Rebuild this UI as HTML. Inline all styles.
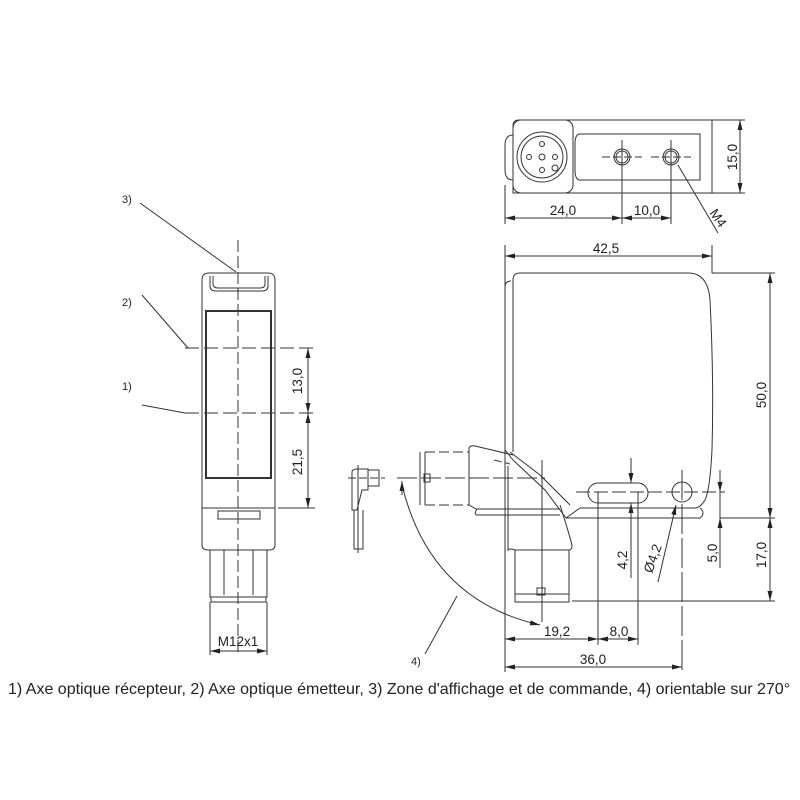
<!DOCTYPE html>
<html><head><meta charset="utf-8"><style>
html,body{margin:0;padding:0;background:#fff;width:800px;height:800px;overflow:hidden}
svg{display:block}
text{font-family:"Liberation Sans",sans-serif;fill:#222}
</style></head><body>
<svg width="800" height="800" viewBox="0 0 800 800" xmlns="http://www.w3.org/2000/svg">
<defs>
<marker id="a" markerWidth="10" markerHeight="6" refX="10" refY="3" orient="auto-start-reverse" markerUnits="userSpaceOnUse"><path d="M0,0.5 L10,3 L0,5.5z" fill="#222"/></marker>
</defs>
<g stroke="#333" fill="none" stroke-width="1">
<!-- LEFT VIEW -->
<path d="M202,508 V280 Q202,273 209,273 H268 Q275,273 275,280 V508 Z"/>
<path d="M210,276 V286 Q210,291 216,291 H262 Q268,291 268,286 V276"/>
<path d="M213,276 V284 Q213,288 218,288 H260 Q265,288 265,284 V276"/>
<rect x="206" y="311" width="65" height="167" stroke-width="2"/>
<line x1="202" y1="508" x2="275" y2="508"/>
<path d="M218,511 h42 v8 h-42 z"/>
<path d="M202,508 V545 Q202,550 208,550 H269 Q275,550 275,545 V508"/>
<path d="M210,550 V597 H267 V550"/>
<line x1="224" y1="550" x2="224" y2="595"/><line x1="253" y1="550" x2="253" y2="595"/>
<path d="M211,597 H266 V602 H211 Z"/>
<line x1="238" y1="240" x2="238" y2="652" stroke-dasharray="12,4"/>
<line x1="185" y1="348" x2="315" y2="348" stroke-dasharray="14,5"/>
<line x1="185" y1="413" x2="315" y2="413" stroke-dasharray="14,5"/>
<line x1="278" y1="508" x2="315" y2="508"/>
<line x1="308" y1="348" x2="308" y2="413" marker-start="url(#a)" marker-end="url(#a)"/>
<line x1="308" y1="413" x2="308" y2="508" marker-start="url(#a)" marker-end="url(#a)"/>
<line x1="210" y1="602" x2="210" y2="655"/><line x1="267" y1="602" x2="267" y2="655"/>
<line x1="210" y1="651" x2="267" y2="651" marker-start="url(#a)" marker-end="url(#a)"/>
<line x1="140" y1="203" x2="236" y2="272"/>
<line x1="142" y1="295" x2="188" y2="348"/>
<line x1="142" y1="405" x2="185" y2="413"/>

<!-- TOP VIEW -->
<path d="M513,193 V126 Q513,120 519,120 H712 V193 Z"/>
<path d="M513,135 Q505,135 505,145 V170 Q505,180 513,180"/>
<rect x="513" y="120" width="60" height="73" rx="8"/>
<circle cx="542" cy="157" r="25"/><circle cx="542" cy="157" r="21"/>
<circle cx="542" cy="157" r="3"/><circle cx="542" cy="144" r="2.5"/><circle cx="542" cy="170" r="2.5"/><circle cx="529" cy="157" r="2.5"/><circle cx="555" cy="157" r="2.5"/>
<circle cx="555" cy="168" r="3"/>
<path d="M580,134 H700 V180 H580 Q575,180 575,170 V144 Q575,134 580,134 Z"/>
<circle cx="622" cy="157" r="8"/><circle cx="622" cy="157" r="6"/>
<circle cx="671" cy="157" r="8"/><circle cx="671" cy="157" r="6"/>
<line x1="602" y1="157" x2="642" y2="157" stroke-dasharray="8,3"/>
<line x1="651" y1="157" x2="691" y2="157" stroke-dasharray="8,3"/>
<line x1="712" y1="120" x2="745" y2="120"/><line x1="712" y1="193" x2="745" y2="193"/>
<line x1="740" y1="120" x2="740" y2="193" marker-start="url(#a)" marker-end="url(#a)"/>
<line x1="505" y1="185" x2="505" y2="224"/>
<line x1="622" y1="140" x2="622" y2="224"/><line x1="671" y1="140" x2="671" y2="224"/>
<line x1="505" y1="218" x2="622" y2="218" marker-start="url(#a)" marker-end="url(#a)"/>
<line x1="622" y1="218" x2="671" y2="218" marker-start="url(#a)" marker-end="url(#a)"/>
<line x1="678" y1="165" x2="718" y2="233"/>

<!-- SIDE VIEW -->
<path d="M513,452 V280 Q513,273 520,273 H688 Q708,273 710,300 Q714,380 712,450 Q710,490 705,500 Q700,508 695,508 H580"/>
<path d="M505,450 V287 Q505,281 511,281"/>
<line x1="505" y1="450" x2="513" y2="460"/>
<path d="M566,518 L580,508 M566,518 H700 Q706,513 700,508"/>
<path d="M510,452 L540,475 L570,505"/>
<path d="M513,460 L545,490 L566,518"/>
<line x1="505" y1="245" x2="505" y2="672"/>
<line x1="712" y1="245" x2="712" y2="273"/>
<line x1="505" y1="256" x2="712" y2="256" marker-start="url(#a)" marker-end="url(#a)"/>
<line x1="712" y1="273" x2="775" y2="273"/>
<line x1="720" y1="518" x2="775" y2="518"/>
<line x1="572" y1="601" x2="775" y2="601"/>
<line x1="770" y1="273" x2="770" y2="518" marker-start="url(#a)" marker-end="url(#a)"/>
<line x1="770" y1="518" x2="770" y2="601" marker-start="url(#a)" marker-end="url(#a)"/>
<rect x="588" y="483" width="60" height="20" rx="10"/>
<circle cx="682" cy="492" r="10"/>
<line x1="576" y1="492" x2="725" y2="492" stroke-dasharray="14,4"/>
<line x1="720" y1="470" x2="720" y2="568"/>
<line x1="720" y1="470" x2="720" y2="492" marker-end="url(#a)"/>
<line x1="720" y1="540" x2="720" y2="518" marker-end="url(#a)"/>
<line x1="598" y1="492" x2="598" y2="645"/>
<line x1="638" y1="492" x2="638" y2="645"/>
<line x1="682" y1="470" x2="682" y2="672" stroke-dasharray="30,4"/>
<line x1="631" y1="458" x2="631" y2="483" marker-end="url(#a)"/>
<line x1="631" y1="530" x2="631" y2="503" marker-end="url(#a)"/>
<line x1="631" y1="503" x2="631" y2="578"/>
<line x1="658" y1="582" x2="676" y2="505" marker-end="url(#a)"/>
<line x1="505" y1="639" x2="598" y2="639" marker-start="url(#a)" marker-end="url(#a)"/>
<line x1="598" y1="639" x2="638" y2="639" marker-start="url(#a)" marker-end="url(#a)"/>
<line x1="505" y1="667" x2="682" y2="667" marker-start="url(#a)" marker-end="url(#a)"/>
<!-- connector -->
<path d="M508,466 V550 Q510,548 515,550"/>
<path d="M469,448 Q470,445 475,446 L513,455"/>
<path d="M469,448 V505 L476,509 H560"/>
<path d="M477,509 Q473,515 478,515 H560"/>
<path d="M560,505 Q568,530 572,545 Q572,550 569,550"/>
<path d="M515,550 V602 H569 V550 Z"/>
<line x1="515" y1="594" x2="569" y2="594"/>
<rect x="537" y="588" width="8" height="7"/>
<line x1="542" y1="460" x2="542" y2="622"/>
<path d="M420,452 V505 M425,452 V505" />
<path d="M425,452 H469 M425,505 H469" stroke-dasharray="10,4"/>
<rect x="424" y="474" width="6" height="8"/>
<path d="M494,460 L510,464" stroke-dasharray="8,3"/>
<line x1="397" y1="478" x2="545" y2="478" stroke-dasharray="20,4"/>
<!-- small cable -->
<path d="M352,472 Q352,469 357,469 H368 V490 H362 L357,510 H352 Z"/>
<rect x="368" y="470" width="11" height="16"/>
<path d="M354,510 V549 H363 V510"/>
<line x1="358" y1="465" x2="358" y2="553"/>
<line x1="348" y1="478" x2="385" y2="478" stroke-dasharray="8,3"/>
<path d="M402,485 Q430,600 540,625" marker-end="url(#a)"/>
<line x1="402" y1="495" x2="402" y2="481" marker-end="url(#a)"/>
<line x1="425" y1="654" x2="457" y2="596"/>
</g>
<g font-size="13.5">
<text x="122" y="203" font-size="11">3)</text>
<text x="122" y="306" font-size="11">2)</text>
<text x="122" y="390" font-size="11">1)</text>
<text transform="translate(302,381) rotate(-90)" text-anchor="middle">13,0</text>
<text transform="translate(302,462) rotate(-90)" text-anchor="middle">21,5</text>
<text x="238" y="646" text-anchor="middle">M12x1</text>
<text x="563" y="215" text-anchor="middle">24,0</text>
<text x="647" y="215" text-anchor="middle">10,0</text>
<text transform="translate(737,157) rotate(-90)" text-anchor="middle">15,0</text>
<text transform="translate(709,213) rotate(55)">M4</text>
<text x="606" y="253" text-anchor="middle">42,5</text>
<text transform="translate(766,395) rotate(-90)" text-anchor="middle">50,0</text>
<text transform="translate(766,555) rotate(-90)" text-anchor="middle">17,0</text>
<text transform="translate(717,553) rotate(-90)" text-anchor="middle">5,0</text>
<text transform="translate(627,560) rotate(-90)" text-anchor="middle">4,2</text>
<text transform="translate(657,560) rotate(-70)" text-anchor="middle">Ø4,2</text>
<text x="557" y="636" text-anchor="middle">19,2</text>
<text x="619" y="636" text-anchor="middle">8,0</text>
<text x="593" y="664" text-anchor="middle">36,0</text>
<text x="411" y="665" font-size="11">4)</text>
<text x="8" y="694" font-size="16">1) Axe optique récepteur, 2) Axe optique émetteur, 3) Zone d'affichage et de commande, 4) orientable sur 270°</text>
</g>
</svg>
</body></html>
